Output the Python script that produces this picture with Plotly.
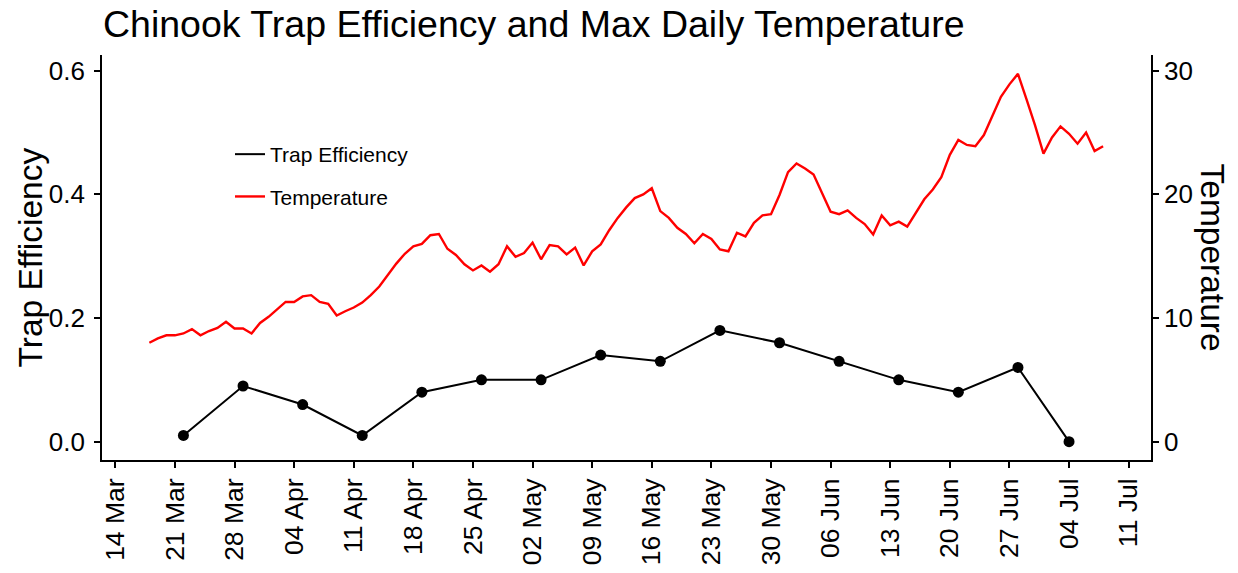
import plotly.graph_objects as go
import pandas as pd

# ---- data ----
trap_dates = ["2021-03-22", "2021-03-29", "2021-04-05", "2021-04-12", "2021-04-19",
              "2021-04-26", "2021-05-03", "2021-05-10", "2021-05-17", "2021-05-24",
              "2021-05-31", "2021-06-07", "2021-06-14", "2021-06-21", "2021-06-28",
              "2021-07-04"]
trap_eff = [0.01, 0.09, 0.06, 0.01, 0.08, 0.10, 0.10, 0.14, 0.13, 0.18,
            0.16, 0.13, 0.10, 0.08, 0.12, 0.00]

temp_start = "2021-03-18"
temp_max = [
    8.0, 8.35, 8.6, 8.6, 8.75, 9.1, 8.6, 8.95, 9.2, 9.7, 9.15, 9.15, 8.75, 9.6,   # Mar 18-31
    10.1, 10.7, 11.3, 11.3, 11.75, 11.85, 11.3, 11.15, 10.2, 10.55, 10.85, 11.25,  # Apr 1-12
    11.85, 12.55, 13.5, 14.4, 15.2, 15.8, 16.0, 16.7, 16.8, 15.6, 15.1, 14.35,     # Apr 13-24
    13.85, 14.25, 13.75, 14.35, 15.8, 14.95, 15.25, 16.1,                          # Apr 25 - May 2
    14.75, 15.9, 15.8, 15.15, 15.7, 14.25, 15.4, 15.95, 17.1, 18.1, 18.95, 19.7,   # May 3-14
    20.0, 20.5, 18.65, 18.1, 17.3, 16.8, 16.05, 16.8, 16.4, 15.55, 15.4, 16.9,     # May 15-26
    16.6, 17.7, 18.3, 18.4, 19.95,                                                 # May 27-31
    21.8, 22.5, 22.1, 21.6, 20.1, 18.6, 18.4, 18.7, 18.1, 17.6, 16.75, 18.3,       # Jun 1-12
    17.5, 17.8, 17.4, 18.5, 19.6, 20.4, 21.4, 23.2, 24.4, 24.0, 23.9, 24.8,        # Jun 13-24
    26.3, 27.9, 28.9, 29.75, 27.7, 25.6,                                           # Jun 25-30
    23.3, 24.6, 25.5, 24.9, 24.1, 25.0, 23.5, 23.9,                                # Jul 1-8
]
temp_dates = pd.date_range(temp_start, periods=len(temp_max), freq="D")

tick_start = "2021-03-14"
x_range = ["2021-03-12 10:30", "2021-07-13 15:00"]
y_left_range = [-0.0297, 0.6255]
temp_scale = 50.0

FONT = "Liberation Sans, Arial, sans-serif"

# body margin is removed below, so figure px == window px
PL, PR, PT, PB = 102, 1151, 55, 460
PW, PH = PR - PL, PB - PT

fig = go.Figure()

fig.add_trace(go.Scatter(
    x=trap_dates, y=trap_eff, mode="lines", name="Trap Efficiency",
    line=dict(color="black", width=2), legendgroup="a",
))
fig.add_trace(go.Scatter(
    x=trap_dates, y=trap_eff, mode="markers", showlegend=False,
    marker=dict(color="black", size=11), legendgroup="a",
))
fig.add_trace(go.Scatter(
    x=temp_dates, y=temp_max, mode="lines", name="Temperature",
    line=dict(color="#ff0000", width=2.4), yaxis="y2", legendgroup="b",
))

axis_common = dict(
    showline=True, linecolor="black", linewidth=1.6,
    ticks="outside", ticklen=6, tickwidth=1.5, tickcolor="black",
    showgrid=False, zeroline=False, automargin=False,
)

fig.update_layout(
    width=1238, height=573,
    paper_bgcolor="white", plot_bgcolor="white",
    margin=dict(l=PL, r=1238 - PR, t=PT, b=573 - PB, autoexpand=False),
    title=dict(
        text="Chinook Trap Efficiency and Max Daily Temperature",
        x=103 / 1238, xanchor="left", xref="container",
        y=1 - 24 / 573, yanchor="middle", yref="container",
        font=dict(family=FONT, size=37.5, color="black"),
    ),
    xaxis=dict(
        type="date", range=x_range, tick0=tick_start, dtick=7 * 86400000,
        tickformat="%d %b", tickangle=-90,
        tickfont=dict(family=FONT, size=26.5, color="black"),
        **axis_common,
    ),
    yaxis=dict(
        range=y_left_range, tickvals=[0, 0.2, 0.4, 0.6],
        ticktext=["0.0", "0.2", "0.4", "0.6"],
        tickfont=dict(family=FONT, size=26, color="black"),
        ticklabelstandoff=4,
        **axis_common,
    ),
    yaxis2=dict(
        range=[y_left_range[0] * temp_scale, y_left_range[1] * temp_scale],
        tickvals=[0, 10, 20, 30], overlaying="y", side="right",
        tickfont=dict(family=FONT, size=26, color="black"),
        **axis_common,
    ),
    legend=dict(
        x=(230 - PL) / PW, y=1 - (134 - PT) / PH,
        xanchor="left", yanchor="top",
        font=dict(family=FONT, size=21, color="black"),
        bgcolor="rgba(0,0,0,0)", traceorder="grouped", tracegroupgap=12,
    ),
    showlegend=True,
    annotations=[
        dict(text="Trap Efficiency", xref="paper", yref="paper",
             x=(30 - PL) / PW, y=0.5, xanchor="center", yanchor="middle",
             textangle=-90, showarrow=False,
             font=dict(family=FONT, size=33.5, color="black")),
        dict(text="Temperature", xref="paper", yref="paper",
             x=(1212 - PL) / PW, y=0.5, xanchor="center", yanchor="middle",
             textangle=90, showarrow=False,
             font=dict(family=FONT, size=33.5, color="black")),
    ],
)

fig.write_html("out.html", config={"displayModeBar": False},
               post_script="document.body.style.margin='0';")
